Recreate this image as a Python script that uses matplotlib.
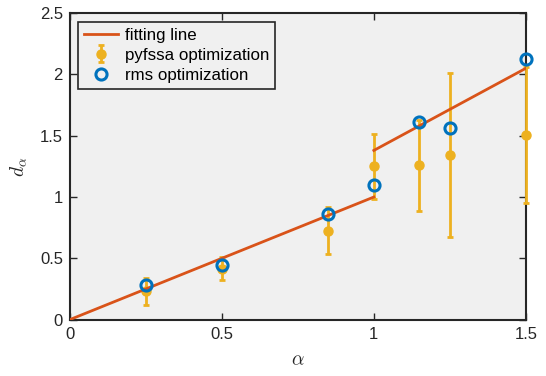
import numpy as np
import matplotlib
matplotlib.use("Agg")
import matplotlib.pyplot as plt

plt.rcParams['font.family'] = ['Liberation Sans', 'DejaVu Sans']
plt.rcParams['mathtext.fontset'] = 'cm'

# data
alpha = [0.25, 0.5, 0.85, 1.0, 1.15, 1.25, 1.5]
pyfssa_d = [0.23, 0.415, 0.725, 1.25, 1.26, 1.34, 1.505]
pyfssa_err = [0.11, 0.095, 0.19, 0.265, 0.37, 0.67, 0.555]
rms_d = [0.28, 0.445, 0.86, 1.10, 1.615, 1.56, 2.13]

fit1_x = [0.0, 1.0]
fit1_y = [0.0, 1.0]
fit2_x = [1.0, 1.5]
fit2_y = [1.38, 2.05]

c_fit = '#D95319'
c_pyf = '#EDB120'
c_rms = '#0072BD'

fig = plt.figure(figsize=(5.46, 3.76), dpi=100)
ax = fig.add_axes([0.128, 0.150, 0.835, 0.815])
ax.set_facecolor('#F0F0F0')

ln, = ax.plot(fit1_x, fit1_y, color=c_fit, lw=2.0, label='fitting line', zorder=4)
ax.plot(fit2_x, fit2_y, color=c_fit, lw=2.0, zorder=4)
eb = ax.errorbar(alpha, pyfssa_d, yerr=pyfssa_err, fmt='o', color=c_pyf, ms=6.5,
                 elinewidth=2.0, capsize=2.2, capthick=2.0, label='pyfssa optimization',
                 zorder=3)
for art in [eb[0], *eb[1], *eb[2]]:
    art.set_clip_on(False)
    art.set_zorder(3)
rm, = ax.plot(alpha, rms_d, 'o', mfc='none', mec=c_rms, mew=2.2, ms=8,
              label='rms optimization', zorder=5, clip_on=False)

ax.set_xlim(0, 1.5)
ax.set_ylim(0, 2.5)
ax.set_xticks([0, 0.5, 1, 1.5])
ax.set_xticklabels(['0', '0.5', '1', '1.5'])
ax.set_yticks([0, 0.5, 1, 1.5, 2, 2.5])
ax.set_yticklabels(['0', '0.5', '1', '1.5', '2', '2.5'])
ax.tick_params(direction='in', top=True, right=True, length=5, width=1,
               labelsize=12, colors='#262626', pad=5)
for s in ax.spines.values():
    s.set_linewidth(1.5)
    s.set_color('#262626')
    s.set_zorder(2.5)

ax.set_xlabel(r'$\alpha$', fontsize=14, color='#262626', labelpad=8)
ax.set_ylabel(r'$d_\alpha$', fontsize=14, color='#262626', labelpad=8)

leg = ax.legend(handles=[ln, eb, rm], loc='upper left', fontsize=12.2,
                frameon=True, fancybox=False, handlelength=2.0,
                borderaxespad=0.5, handletextpad=0.4, labelspacing=0.3,
                borderpad=0.35)
leg.get_frame().set_edgecolor('#262626')
leg.get_frame().set_linewidth(1.2)
leg.get_frame().set_facecolor('#F0F0F0')
leg.get_frame().set_alpha(1)
leg.set_zorder(10)

fig.savefig('out.png', dpi=100)
